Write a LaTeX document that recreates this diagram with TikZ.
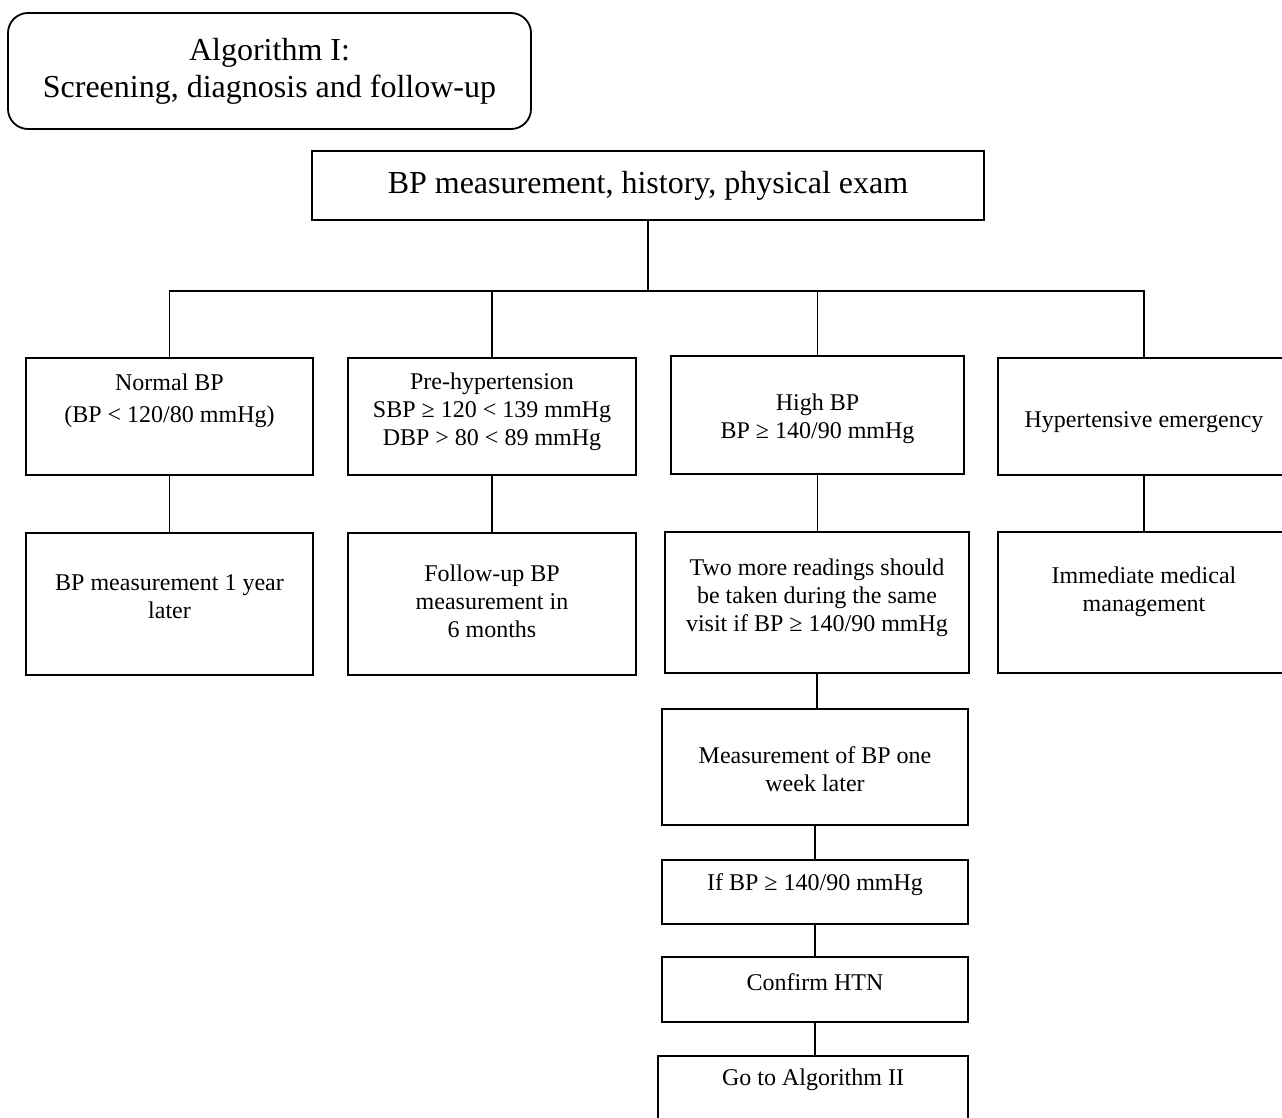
\documentclass[tikz,border=0pt]{standalone}
\usepackage{fontspec}
\setmainfont{Liberation Serif}
\tikzset{
    box/.style={draw, line width=0.9pt, inner sep=0pt},
    txt/.style={align=center, inner sep=0pt, font=\fontsize{12}{14}\selectfont},
    big/.style={align=center, font=\fontsize{16}{18.5}\selectfont},
    link/.style={line width=0.75pt},
}

\begin{document}
\begin{tikzpicture}[x=0.5pt, y=-0.5pt]
\useasboundingbox (0,0) rectangle (1282,1118);
\node[box, big, rounded corners=10pt, minimum width=261.5pt, minimum height=58pt] (title) at (269.5,71) {Algorithm I:\\Screening, diagnosis and follow-up};
\node[box, big, minimum width=336pt, minimum height=34.5pt] (exam) at (648,185.5) {BP measurement, history, physical exam};

\node[box, minimum width=143.5pt, minimum height=58.5pt] (normal) at (169.5,416.5) {};
\node[box, minimum width=144pt, minimum height=58.5pt] (prehyp) at (492,416.5) {};
\node[box, minimum width=146.5pt, minimum height=59pt] (high) at (817.5,415) {};
\node[box, minimum width=146pt, minimum height=58.5pt] (emerg) at (1144,416.5) {};

\node[box, minimum width=143.5pt, minimum height=71pt] (year) at (169.5,604) {};
\node[box, minimum width=144pt, minimum height=71pt] (sixmo) at (492,604) {};
\node[box, minimum width=152pt, minimum height=70.5pt] (twomore) at (817,602.5) {};
\node[box, minimum width=146pt, minimum height=70.5pt] (immed) at (1144,602.5) {};

\node[box, minimum width=153pt, minimum height=58pt] (week) at (815,767) {};
\node[box, minimum width=153pt, minimum height=32pt] (ifbp) at (815,892) {};
\node[box, minimum width=153pt, minimum height=32.5pt] (htn) at (815,989.5) {};
\node[box, minimum width=155pt, minimum height=34.5pt] (algo2) at (813,1090.5) {};

\node[txt, yshift=8pt] (tnormal) at (normal) {Normal BP\\[2pt](BP < 120/80 mmHg)};
\node[txt, yshift=2.5pt] (tprehyp) at (prehyp) {Pre-hypertension\\SBP ≥ 120 < 139 mmHg\\DBP > 80 < 89 mmHg};
\node[txt, yshift=-2pt] (thigh) at (high) {High BP\\BP ≥ 140/90 mmHg};
\node[txt, yshift=-2.75pt] (temerg) at (emerg) {Hypertensive emergency};
\node[txt, yshift=3.5pt] (tyear) at (year) {BP measurement 1 year\\later};
\node[txt, yshift=1.25pt] (tsixmo) at (sixmo) {Follow-up BP\\measurement in\\6 months};
\node[txt, yshift=2.5pt] (ttwomore) at (twomore) {Two more readings should\\be taken during the same\\visit if BP ≥ 140/90 mmHg};
\node[txt, yshift=5.5pt] (timmed) at (immed) {Immediate medical\\management};
\node[txt, yshift=-1.25pt] (tweek) at (week) {Measurement of BP one\\week later};
\node[txt, yshift=3.5pt] (tifbp) at (ifbp) {If BP ≥ 140/90 mmHg};
\node[txt, yshift=3.75pt] (thtn) at (htn) {Confirm HTN};
\node[txt, yshift=5.25pt] (talgo2) at (algo2) {Go to Algorithm II};

\coordinate (split) at (648,291);
\draw[link] (exam) -- (split);
\draw[link] (normal) |- (split) -| (emerg);
\draw[link] (prehyp) -- (prehyp |- split);
\draw[link] (high) -- (high |- split);
\draw[link] (normal) -- (year);
\draw[link] (prehyp) -- (sixmo);
\draw[link] (high.south) -- (high.south |- twomore.north);
\draw[link] (emerg) -- (immed);
\draw[link] (twomore.south) -- (twomore.south |- week.north);
\draw[link] (week) -- (ifbp);
\draw[link] (ifbp) -- (htn);
\draw[link] (htn) -- (htn |- algo2.north);
\end{tikzpicture}
\end{document}
